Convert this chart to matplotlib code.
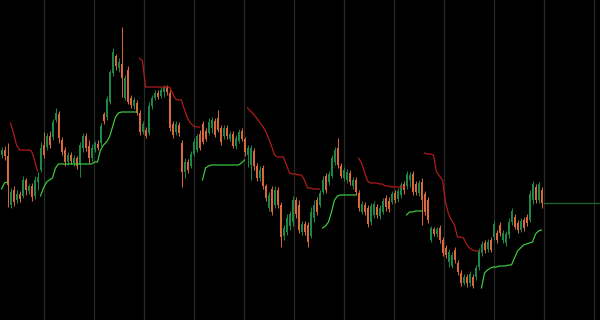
import numpy as np
import matplotlib
matplotlib.use("Agg")
import matplotlib.pyplot as plt

# OHLC, one bar per entry
opens = [165, 170, 164, 115, 130, 120, 126, 124, 140, 129, 134, 124, 138, 150, 175, 173, 184, 183, 200, 206,
         180, 170, 158, 165, 157, 162, 155, 172, 184, 174, 162, 170, 176, 177, 206, 203, 218, 247, 264, 252,
         256, 222, 250, 222, 214, 217, 207, 188, 190, 187, 214, 222, 227, 224, 228, 233, 227, 196, 188, 195,
         177, 148, 158, 154, 166, 170, 186, 196, 189, 187, 192, 199, 202, 192, 184, 192, 181, 186, 174, 179,
         189, 181, 165, 155, 169, 154, 142, 152, 134, 112, 131, 115, 130, 115, 84, 88, 94, 98, 120, 115,
         88, 96, 95, 84, 102, 120, 115, 128, 144, 138, 144, 158, 172, 154, 142, 140, 147, 134, 140, 127,
         108, 115, 112, 98, 105, 113, 104, 108, 122, 119, 118, 127, 121, 125, 136, 134, 140, 146, 136, 127,
         138, 126, 120, 80, 91, 86, 92, 80, 72, 58, 54, 70, 57, 47, 37, 43, 37, 43, 43, 53,
         67, 77, 71, 80, 83, 87, 95, 80, 77, 85, 98, 103, 97, 90, 100, 103, 100, 120, 133, 120,
         130]
highs = [173, 174, 177, 132, 134, 130, 129, 144, 142, 136, 137, 144, 148, 178, 188, 187, 189, 201, 212, 209,
         183, 173, 168, 168, 165, 164, 178, 187, 187, 180, 176, 179, 180, 197, 208, 224, 250, 272, 266, 262,
         293, 245, 254, 225, 223, 220, 210, 199, 193, 218, 225, 230, 230, 233, 235, 235, 230, 199, 199, 198,
         180, 162, 161, 169, 182, 186, 190, 199, 192, 202, 203, 202, 210, 195, 195, 195, 189, 189, 185, 191,
         192, 183, 175, 175, 172, 157, 154, 155, 136, 128, 134, 134, 133, 118, 95, 106, 109, 124, 123, 120,
         99, 99, 98, 113, 120, 123, 130, 144, 147, 149, 165, 173, 182, 157, 153, 151, 150, 143, 143, 130,
         119, 118, 115, 117, 119, 116, 115, 122, 125, 123, 129, 130, 132, 138, 139, 149, 148, 149, 139, 140,
         142, 129, 123, 94, 93, 93, 95, 83, 75, 71, 68, 73, 60, 50, 46, 46, 49, 46, 55, 72,
         79, 80, 81, 83, 99, 90, 98, 90, 89, 102, 112, 106, 100, 102, 103, 106, 130, 139, 136, 138,
         133]
lows = [162, 160, 113, 112, 114, 117, 118, 122, 125, 126, 119, 121, 130, 148, 162, 170, 172, 180, 198, 177,
        165, 154, 155, 156, 154, 151, 143, 168, 169, 157, 159, 168, 170, 174, 196, 200, 216, 244, 250, 248,
        223, 220, 216, 212, 211, 205, 185, 186, 182, 185, 211, 220, 221, 222, 223, 225, 189, 182, 185, 184,
        133, 142, 147, 152, 164, 168, 170, 176, 179, 185, 187, 183, 188, 175, 181, 181, 179, 172, 171, 177,
        179, 164, 153, 140, 150, 139, 139, 131, 119, 109, 105, 112, 112, 73, 80, 85, 90, 94, 102, 87,
        85, 85, 73, 82, 98, 105, 113, 126, 127, 135, 142, 155, 152, 142, 139, 137, 135, 131, 125, 109,
        106, 105, 93, 95, 102, 102, 101, 106, 109, 108, 116, 117, 118, 122, 126, 131, 133, 125, 125, 124,
        95, 105, 97, 78, 84, 83, 77, 64, 62, 53, 52, 57, 45, 34, 35, 33, 34, 32, 40, 50,
        64, 67, 68, 68, 80, 77, 84, 77, 74, 82, 95, 91, 87, 88, 89, 94, 98, 116, 117, 117,
        112]
closes = [170, 164, 135, 128, 118, 126, 121, 140, 130, 134, 123, 140, 143, 172, 165, 184, 175, 198, 207, 182,
          168, 158, 165, 159, 162, 154, 175, 184, 172, 162, 172, 177, 172, 194, 199, 221, 248, 268, 254, 258,
          242, 242, 218, 215, 220, 207, 188, 196, 184, 214, 222, 227, 223, 230, 233, 228, 192, 185, 196, 187,
          148, 158, 150, 166, 178, 184, 172, 178, 181, 198, 200, 185, 190, 178, 192, 184, 186, 174, 182, 188,
          181, 168, 172, 172, 154, 142, 150, 134, 122, 125, 108, 130, 115, 83, 92, 102, 106, 120, 106, 90,
          96, 88, 78, 108, 115, 108, 127, 140, 130, 146, 162, 170, 155, 144, 150, 148, 138, 140, 128, 112,
          116, 108, 96, 114, 116, 105, 112, 119, 113, 111, 126, 120, 129, 135, 130, 146, 145, 128, 128, 137,
          120, 108, 100, 92, 86, 91, 80, 67, 65, 68, 65, 60, 48, 37, 43, 37, 46, 34, 52, 69,
          76, 70, 78, 70, 96, 80, 87, 87, 86, 98, 109, 93, 90, 99, 92, 97, 126, 136, 120, 136,
          117]

# supertrend pieces: (first bar, values)
upper_band = [
    (3, [197, 187, 175, 170, 170, 170, 170, 169, 160, 149]),
    (46, [262, 259, 233, 233, 233, 233, 233, 233, 233, 233, 233, 227, 221, 220, 220, 210, 202, 197, 194, 193,
          193]),
    (82, [212, 209, 206, 202, 198, 194, 189, 182, 174, 165, 163, 163, 163, 155, 147, 146, 146, 145, 145, 140,
          132, 132, 131, 131, 131]),
    (119, [162, 157, 148, 139, 137, 137, 137, 136, 136, 134, 134, 133, 133, 133, 133, 133]),
    (141, [167, 166, 166, 165, 148, 144, 140, 118, 106, 100, 95, 83, 83, 82, 76, 72, 70, 69, 69]),
]
lower_band = [
    (0, [131, 137, 138]),
    (13, [124, 132, 138, 140, 142, 152, 156, 156, 156, 156, 156, 156, 156, 156, 156, 156, 156, 156, 158, 158,
          170, 175, 178, 183, 193, 203, 207, 208, 208, 208, 208, 208, 208]),
    (67, [140, 152, 154, 155, 155, 155, 155, 155, 155, 155, 155, 155, 155, 157, 160]),
    (107, [92, 94, 98, 108, 120, 124, 125, 125, 125, 125, 125, 125]),
    (135, [105, 108, 108, 109, 109, 109]),
    (160, [32, 47, 50, 52, 53, 53, 54, 54, 54, 55, 55, 62, 69, 72, 75, 76, 77, 78, 86, 89, 90]),
]

up_col = "#1c8a48"
down_col = "#dd6a3a"

fig = plt.figure(figsize=(6, 3.2), dpi=100, facecolor="black")
ax = fig.add_axes([0, 0, 1, 1], facecolor="black")

n = len(closes)
x = np.arange(n)
o = np.array(opens)
c = np.array(closes)
cols = [up_col if c[i] >= o[i] else down_col for i in range(n)]

ax.vlines(x, lows, highs, colors=cols, linewidth=0.7, zorder=2)
body = np.maximum(np.abs(c - o), 0.8)
ax.bar(x, body, bottom=np.minimum(o, c), width=0.55, color=cols, linewidth=0, zorder=3)

for start, vals in upper_band:
    ax.plot(np.arange(start, start + len(vals)), vals, color="#b81d1b", linewidth=0.85, zorder=4)
for start, vals in lower_band:
    ax.plot(np.arange(start, start + len(vals)), vals, color="#3fd03f", linewidth=0.85, zorder=4)

# last price line off to the right
ax.hlines(closes[-1], n - 0.5, 250, colors="#1d5e2c", linewidth=1.0, zorder=1)

ax.set_xlim(-0.5, 199.5)
ax.set_ylim(0, 320)
ax.set_xticks(np.arange(14.17, 200, 50 / 3))
ax.grid(axis="x", color="#282828", linewidth=0.9)
ax.set_axisbelow(True)
ax.tick_params(length=0, labelbottom=False, labelleft=False)
for s in ax.spines.values():
    s.set_visible(False)

fig.savefig("out.png", dpi=100, facecolor="black")
